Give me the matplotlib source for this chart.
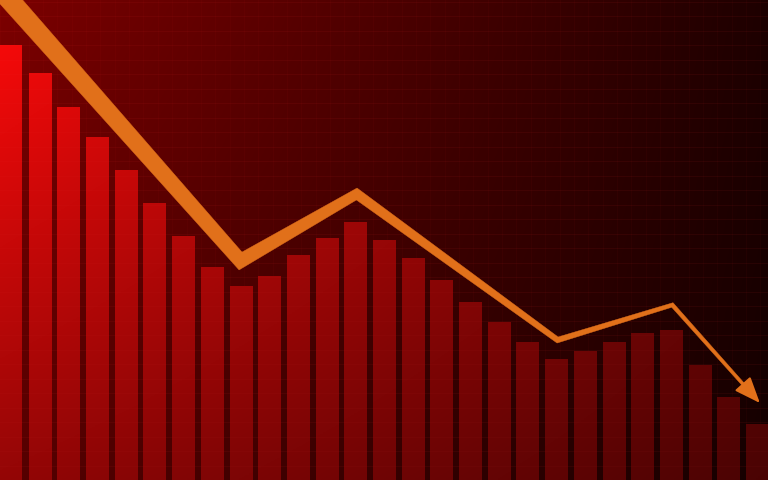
import numpy as np
import matplotlib
matplotlib.use("Agg")
import matplotlib.pyplot as plt
from matplotlib.patches import Polygon

# bar heights (pixel-ish units, 0 = bottom of the picture)
bar_values = [435, 407, 373, 343, 310, 277, 244, 213, 194, 204, 225, 242, 258,
              240, 222, 200, 178, 158, 138, 121, 129, 138, 147, 150, 115, 83, 56]

# trend line vertices (x in bar index units)
line_x = [-0.6, 8, 12.05, 19.05, 23.05, 26.1]
line_y = [498, 219, 286, 140, 175, 77]
# line thickness at each vertex, pixels
line_w = [20, 14, 10, 5.5, 4, 3]

LINE_COLOR = "#e1701a"
W, H = 768, 480

fig = plt.figure(figsize=(W / 100, H / 100), dpi=100)
ax = fig.add_axes([0, 0, 1, 1])
x0, x1 = -0.383, len(bar_values) - 1 + 0.383
ax.set_xlim(x0, x1)
ax.set_ylim(0, H)
ax.axis("off")

# background gradient: dark red on the left fading to near black on the right
# (row 0 = top of picture)
yy, xx = np.mgrid[0:1:200j, 0:1:300j]
bg_r = 124 * (1 - 0.76 * xx) * (1 - 0.3 * yy)
bg = np.zeros(yy.shape + (3,))
bg[..., 0] = bg_r / 255
ax.imshow(bg, extent=[x0, x1, 0, H], aspect="auto", zorder=0, origin="upper")

# faint grid
for gx in np.arange(x0, x1, 0.5):
    ax.axvline(gx, color="#ff3030", alpha=0.035, lw=0.8, zorder=1)
for gy in np.arange(0, H, 14.5):
    ax.axhline(gy, color="#ff3030", alpha=0.04, lw=0.8, zorder=1)

# bar colour field: bright red top-left, dark bottom-right
bar_r = 255 * (1 - 0.5 * xx) * (1 - 0.42 * yy)
bar_img = np.zeros(yy.shape + (3,))
bar_img[..., 0] = np.clip(bar_r / 255, 0, 1)
bar_img[..., 1] = bar_img[..., 0] * 0.04
bar_img[..., 2] = bar_img[..., 0] * 0.04

bar_width = 22 / 28.69
bars = ax.bar(range(len(bar_values)), bar_values, width=bar_width,
              color="none", edgecolor="none", zorder=2)
for b in bars:
    im = ax.imshow(bar_img, extent=[x0, x1, 0, H], aspect="auto",
                   zorder=2, origin="upper")
    im.set_clip_path(b)

# faint cell texture on bars
for gy in np.arange(0, H, 14.5):
    ax.axhline(gy, color="#ff6060", alpha=0.03, lw=0.8, zorder=3)

# tapered trend line built as a mitred polygon in display space
fig.canvas.draw()
pts = ax.transData.transform(np.column_stack([line_x, line_y]))
n = len(pts)
left, right = [], []
for i in range(n):
    if i == 0:
        d = pts[1] - pts[0]
        nrm = np.array([-d[1], d[0]]) / np.hypot(*d)
        off = nrm * line_w[i] / 2
    elif i == n - 1:
        d = pts[-1] - pts[-2]
        nrm = np.array([-d[1], d[0]]) / np.hypot(*d)
        off = nrm * line_w[i] / 2
    else:
        d1 = pts[i] - pts[i - 1]
        d2 = pts[i + 1] - pts[i]
        n1 = np.array([-d1[1], d1[0]]) / np.hypot(*d1)
        n2 = np.array([-d2[1], d2[0]]) / np.hypot(*d2)
        m = n1 + n2
        m = m / np.hypot(*m)
        off = m * (line_w[i] / 2) / np.dot(m, n1)
    left.append(pts[i] + off)
    right.append(pts[i] - off)

# stop the shaft a little before the tip, the arrow head covers it
d = pts[-1] - pts[-2]
u = d / np.hypot(*d)
left[-1] = left[-1] - u * 12
right[-1] = right[-1] - u * 12
poly_disp = np.array(left + right[::-1])
poly = ax.transData.inverted().transform(poly_disp)
ax.add_patch(Polygon(poly, closed=True, facecolor=LINE_COLOR,
                     edgecolor=LINE_COLOR, lw=0.3, zorder=5))

# arrow head at the end
back = ax.transData.inverted().transform(pts[-1] - u * 20)
ax.annotate("", xy=(line_x[-1], line_y[-1]), xytext=(back[0], back[1]),
            arrowprops=dict(arrowstyle="-|>,head_length=1.0,head_width=0.4",
                            color=LINE_COLOR, lw=1.5, mutation_scale=16,
                            shrinkA=0, shrinkB=0),
            zorder=6)

fig.savefig("out.png", dpi=100)
